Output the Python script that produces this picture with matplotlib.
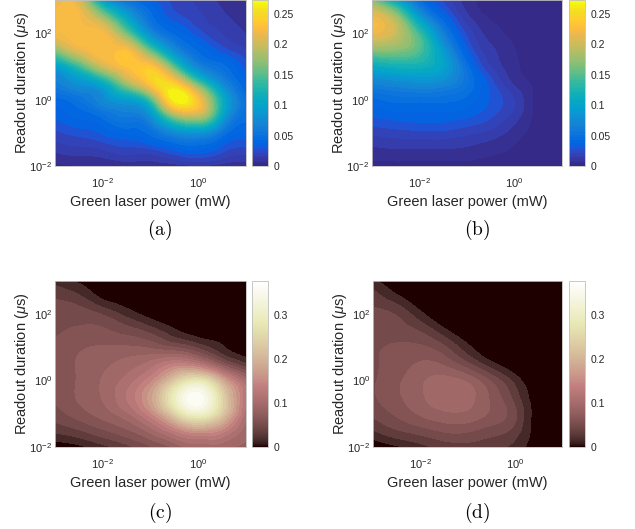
import numpy as np
import matplotlib
matplotlib.use("Agg")
import matplotlib.pyplot as plt
import matplotlib.tri as mtri
from matplotlib.colors import ListedColormap, Normalize
from matplotlib.cm import ScalarMappable

# ---------------- data ----------------
# log10 of green laser power (mW), columns
log_power = [-3.0, -2.5, -2.0, -1.5, -1.0, -0.5, 0.0, 0.5, 1.0]
# log10 of readout duration (us), rows (top to bottom)
log_duration = [3.0, 2.5, 2.0, 1.5, 1.0, 0.5, 0.0, -0.5, -1.0, -1.5, -2.0]

values_a = [
    [0.215, 0.210, 0.095, 0.050, 0.035, 0.025, 0.018, 0.012, 0.008],
    [0.229, 0.226, 0.175, 0.100, 0.050, 0.030, 0.022, 0.015, 0.010],
    [0.225, 0.229, 0.225, 0.160, 0.075, 0.045, 0.030, 0.020, 0.013],
    [0.170, 0.215, 0.230, 0.228, 0.150, 0.075, 0.045, 0.030, 0.020],
    [0.095, 0.140, 0.200, 0.232, 0.235, 0.148, 0.070, 0.050, 0.030],
    [0.065, 0.085, 0.110, 0.180, 0.238, 0.240, 0.150, 0.075, 0.040],
    [0.045, 0.055, 0.075, 0.095, 0.145, 0.270, 0.230, 0.115, 0.050],
    [0.035, 0.042, 0.050, 0.062, 0.080, 0.170, 0.190, 0.100, 0.050],
    [0.025, 0.030, 0.035, 0.042, 0.050, 0.075, 0.085, 0.055, 0.040],
    [0.015, 0.018, 0.020, 0.025, 0.026, 0.035, 0.040, 0.030, 0.025],
    [0.005, 0.006, 0.007, 0.008, 0.009, 0.010, 0.012, 0.010, 0.008],
]
# crest of the ridge in panel (a), read between the grid columns
ridge_a_power = [-2.75, -2.25, -1.75, -1.25, -0.75, -0.25, 0.25]
ridge_a_duration = [2.2, 1.8, 1.4, 1.0, 0.45, -0.15, -0.5]
ridge_a_values = [0.229, 0.229, 0.231, 0.236, 0.255, 0.258, 0.160]

values_b = [
    [0.170, 0.100, 0.045, 0.025, 0.010, 0.005, 0.004, 0.004, 0.004],
    [0.220, 0.180, 0.090, 0.040, 0.015, 0.006, 0.004, 0.004, 0.004],
    [0.220, 0.200, 0.140, 0.065, 0.025, 0.010, 0.005, 0.004, 0.004],
    [0.170, 0.170, 0.150, 0.090, 0.035, 0.015, 0.007, 0.004, 0.004],
    [0.110, 0.120, 0.120, 0.100, 0.050, 0.020, 0.008, 0.004, 0.004],
    [0.070, 0.075, 0.080, 0.075, 0.055, 0.030, 0.012, 0.005, 0.004],
    [0.045, 0.050, 0.050, 0.050, 0.045, 0.033, 0.020, 0.004, 0.004],
    [0.035, 0.037, 0.038, 0.038, 0.035, 0.028, 0.017, 0.004, 0.004],
    [0.022, 0.024, 0.025, 0.025, 0.022, 0.018, 0.010, 0.004, 0.004],
    [0.012, 0.013, 0.013, 0.013, 0.012, 0.009, 0.006, 0.004, 0.004],
    [0.004, 0.004, 0.004, 0.004, 0.004, 0.004, 0.004, 0.004, 0.004],
]

values_c = [
    [0.025, 0.012, 0.003, 0.000, 0.000, 0.000, 0.000, 0.000, 0.000],
    [0.045, 0.035, 0.012, 0.003, 0.000, 0.000, 0.000, 0.000, 0.000],
    [0.055, 0.055, 0.045, 0.025, 0.008, 0.002, 0.000, 0.000, 0.000],
    [0.060, 0.065, 0.065, 0.055, 0.040, 0.018, 0.004, 0.000, 0.000],
    [0.065, 0.075, 0.080, 0.080, 0.075, 0.062, 0.042, 0.018, 0.004],
    [0.065, 0.080, 0.090, 0.100, 0.115, 0.140, 0.125, 0.070, 0.032],
    [0.065, 0.080, 0.095, 0.115, 0.150, 0.230, 0.280, 0.190, 0.105],
    [0.065, 0.080, 0.095, 0.125, 0.180, 0.300, 0.370, 0.250, 0.125],
    [0.055, 0.070, 0.085, 0.105, 0.150, 0.240, 0.310, 0.230, 0.115],
    [0.035, 0.045, 0.060, 0.075, 0.100, 0.140, 0.170, 0.150, 0.100],
    [0.002, 0.010, 0.025, 0.040, 0.060, 0.080, 0.100, 0.100, 0.090],
]

values_d = [
    [0.020, 0.002, 0.000, 0.000, 0.000, 0.000, 0.000, 0.000, 0.000],
    [0.040, 0.020, 0.003, 0.000, 0.000, 0.000, 0.000, 0.000, 0.000],
    [0.050, 0.045, 0.020, 0.002, 0.000, 0.000, 0.000, 0.000, 0.000],
    [0.055, 0.055, 0.045, 0.020, 0.002, 0.000, 0.000, 0.000, 0.000],
    [0.060, 0.065, 0.065, 0.050, 0.020, 0.002, 0.000, 0.000, 0.000],
    [0.060, 0.070, 0.080, 0.075, 0.050, 0.020, 0.002, 0.000, 0.000],
    [0.060, 0.075, 0.090, 0.100, 0.090, 0.060, 0.025, 0.001, 0.000],
    [0.060, 0.075, 0.090, 0.105, 0.100, 0.075, 0.040, 0.003, 0.000],
    [0.050, 0.065, 0.080, 0.090, 0.090, 0.075, 0.050, 0.003, 0.000],
    [0.030, 0.045, 0.055, 0.065, 0.065, 0.055, 0.040, 0.004, 0.000],
    [0.001, 0.012, 0.025, 0.035, 0.040, 0.035, 0.025, 0.004, 0.000],
]

vmax_top = 0.273
vmax_bottom = 0.376
cbar_ticks_top = [0, 0.05, 0.1, 0.15, 0.2, 0.25]
cbar_labels_top = ["0", "0.05", "0.1", "0.15", "0.2", "0.25"]
cbar_ticks_bottom = [0, 0.1, 0.2, 0.3]
cbar_labels_bottom = ["0", "0.1", "0.2", "0.3"]
panel_labels = ["(a)", "(b)", "(c)", "(d)"]
xlabel_text = "Green laser power (mW)"
ylabel_text = r"Readout duration ($\mu$s)"

# ---------------- colormaps ----------------
parula_data = [
    [0.2081, 0.1663, 0.5292], [0.2116, 0.1898, 0.5777], [0.2123, 0.2138, 0.6270],
    [0.2081, 0.2386, 0.6771], [0.1959, 0.2645, 0.7279], [0.1707, 0.2919, 0.7792],
    [0.1253, 0.3242, 0.8303], [0.0591, 0.3598, 0.8683], [0.0117, 0.3875, 0.8820],
    [0.0060, 0.4086, 0.8828], [0.0165, 0.4266, 0.8786], [0.0329, 0.4430, 0.8720],
    [0.0498, 0.4586, 0.8641], [0.0629, 0.4737, 0.8554], [0.0723, 0.4887, 0.8467],
    [0.0779, 0.5040, 0.8384], [0.0793, 0.5200, 0.8312], [0.0749, 0.5375, 0.8263],
    [0.0641, 0.5570, 0.8240], [0.0488, 0.5772, 0.8228], [0.0343, 0.5966, 0.8199],
    [0.0265, 0.6137, 0.8135], [0.0239, 0.6287, 0.8038], [0.0231, 0.6418, 0.7913],
    [0.0228, 0.6535, 0.7768], [0.0267, 0.6642, 0.7607], [0.0384, 0.6743, 0.7436],
    [0.0590, 0.6838, 0.7254], [0.0843, 0.6928, 0.7062], [0.1133, 0.7015, 0.6859],
    [0.1453, 0.7098, 0.6646], [0.1801, 0.7177, 0.6424], [0.2178, 0.7250, 0.6193],
    [0.2586, 0.7317, 0.5954], [0.3022, 0.7376, 0.5712], [0.3482, 0.7424, 0.5473],
    [0.3953, 0.7459, 0.5244], [0.4420, 0.7481, 0.5033], [0.4871, 0.7491, 0.4840],
    [0.5300, 0.7491, 0.4661], [0.5709, 0.7485, 0.4494], [0.6099, 0.7473, 0.4337],
    [0.6473, 0.7456, 0.4188], [0.6834, 0.7435, 0.4044], [0.7184, 0.7411, 0.3905],
    [0.7525, 0.7384, 0.3768], [0.7858, 0.7356, 0.3633], [0.8185, 0.7327, 0.3498],
    [0.8507, 0.7299, 0.3360], [0.8824, 0.7274, 0.3217], [0.9139, 0.7258, 0.3063],
    [0.9450, 0.7261, 0.2886], [0.9739, 0.7314, 0.2666], [0.9938, 0.7455, 0.2403],
    [0.9990, 0.7653, 0.2164], [0.9955, 0.7861, 0.1967], [0.9880, 0.8066, 0.1794],
    [0.9789, 0.8271, 0.1633], [0.9697, 0.8481, 0.1475], [0.9626, 0.8705, 0.1309],
    [0.9589, 0.8949, 0.1132], [0.9598, 0.9218, 0.0948], [0.9661, 0.9514, 0.0755],
    [0.9763, 0.9831, 0.0538],
]
parula = ListedColormap(parula_data, name="parula")
pink = plt.get_cmap("pink")

plt.rcParams["font.family"] = ["Liberation Sans", "DejaVu Sans"]
plt.rcParams["mathtext.fontset"] = "custom"
plt.rcParams["mathtext.rm"] = "Liberation Sans"
plt.rcParams["mathtext.it"] = "Liberation Sans:italic"

fig = plt.figure(figsize=(6.35, 5.29), dpi=100)

W, H = 635.0, 529.0
panels = [
    dict(z=values_a, extra=(ridge_a_power, ridge_a_duration, ridge_a_values),
         cmap=parula, vmax=vmax_top, nlev=40, ticks=cbar_ticks_top, labels=cbar_labels_top,
         ax=(55, 0, 191, 166), cax=(252, 0, 16, 166), lab=(160, 230)),
    dict(z=values_b, extra=None,
         cmap=parula, vmax=vmax_top, nlev=40, ticks=cbar_ticks_top, labels=cbar_labels_top,
         ax=(372, 0, 190, 166), cax=(569, 0, 16, 166), lab=(477, 230)),
    dict(z=values_c, extra=None,
         cmap=pink, vmax=vmax_bottom, nlev=24, ticks=cbar_ticks_bottom, labels=cbar_labels_bottom,
         ax=(55, 281, 191, 166), cax=(252, 281, 16, 166), lab=(160, 513)),
    dict(z=values_d, extra=None,
         cmap=pink, vmax=vmax_bottom, nlev=24, ticks=cbar_ticks_bottom, labels=cbar_labels_bottom,
         ax=(373, 281, 189, 166), cax=(569, 281, 16, 166), lab=(477, 513)),
]

LX, LY = np.meshgrid(np.array(log_power), np.array(log_duration))

text_color = "#262626"
spine_color = "#bfbfbf"

def rect(px):
    x, y, w, h = px
    return [x / W, 1 - (y + h) / H, w / W, h / H]

for i, p in enumerate(panels):
    ax = fig.add_axes(rect(p["ax"]))
    px_ = LX.ravel()
    py_ = LY.ravel()
    z = np.array(p["z"]).ravel()
    if p["extra"] is not None:
        ex, ey, ez = p["extra"]
        px_ = np.concatenate([px_, ex])
        py_ = np.concatenate([py_, ey])
        z = np.concatenate([z, ez])
    base_tri = mtri.Triangulation(px_, py_)
    refiner = mtri.UniformTriRefiner(base_tri)
    interp = mtri.CubicTriInterpolator(base_tri, z, kind="min_E")
    tri_r, z_r = refiner.refine_field(z, triinterpolator=interp, subdiv=4)
    z_r = np.clip(z_r, 0, p["vmax"] * 0.999)
    tri_plot = mtri.Triangulation(10 ** tri_r.x, 10 ** tri_r.y, tri_r.triangles)
    levels = np.linspace(0, p["vmax"], p["nlev"] + 1)
    step = levels[1] - levels[0]
    levels[0] = -1e-6
    # colour each band by its lower level (as in MATLAB's contourf)
    band_norm = Normalize(step / 2, p["vmax"] + step / 2)
    cs = ax.tricontourf(tri_plot, z_r, levels=levels, cmap=p["cmap"], norm=band_norm)
    cs.set_edgecolor("face")
    cs.set_linewidth(0.4)
    ax.set_xscale("log")
    ax.set_yscale("log")
    ax.set_xlim(1e-3, 1e1)
    ax.set_ylim(1e-2, 1e3)
    ax.set_xticks([1e-2, 1e0])
    ax.set_yticks([1e-2, 1e0, 1e2])
    ax.minorticks_off()
    ax.tick_params(length=0, labelsize=8, colors=text_color)
    ax.tick_params(axis="x", pad=7)
    ax.tick_params(axis="y", pad=2)
    for s in ax.spines.values():
        s.set_color(spine_color)
        s.set_linewidth(0.6)
        s.set_zorder(5)
    ax.set_xlabel(xlabel_text, fontsize=10.5, color=text_color, labelpad=4)
    ax.set_ylabel(ylabel_text, fontsize=10.5, color=text_color, labelpad=-1)

    cax = fig.add_axes(rect(p["cax"]))
    sm = ScalarMappable(norm=Normalize(0, p["vmax"]), cmap=p["cmap"])
    cb = fig.colorbar(sm, cax=cax)
    cb.set_ticks(p["ticks"])
    cb.set_ticklabels(p["labels"])
    cb.ax.tick_params(length=0, labelsize=7.5, colors=text_color, pad=4)
    cb.outline.set_edgecolor(spine_color)
    cb.outline.set_linewidth(0.6)

    fig.text(p["lab"][0] / W, 1 - p["lab"][1] / H, r"$\mathrm{" + panel_labels[i] + "}$",
             ha="center", va="center", fontsize=14, color="black",
             math_fontfamily="cm")

fig.savefig("out.png", dpi=100)
